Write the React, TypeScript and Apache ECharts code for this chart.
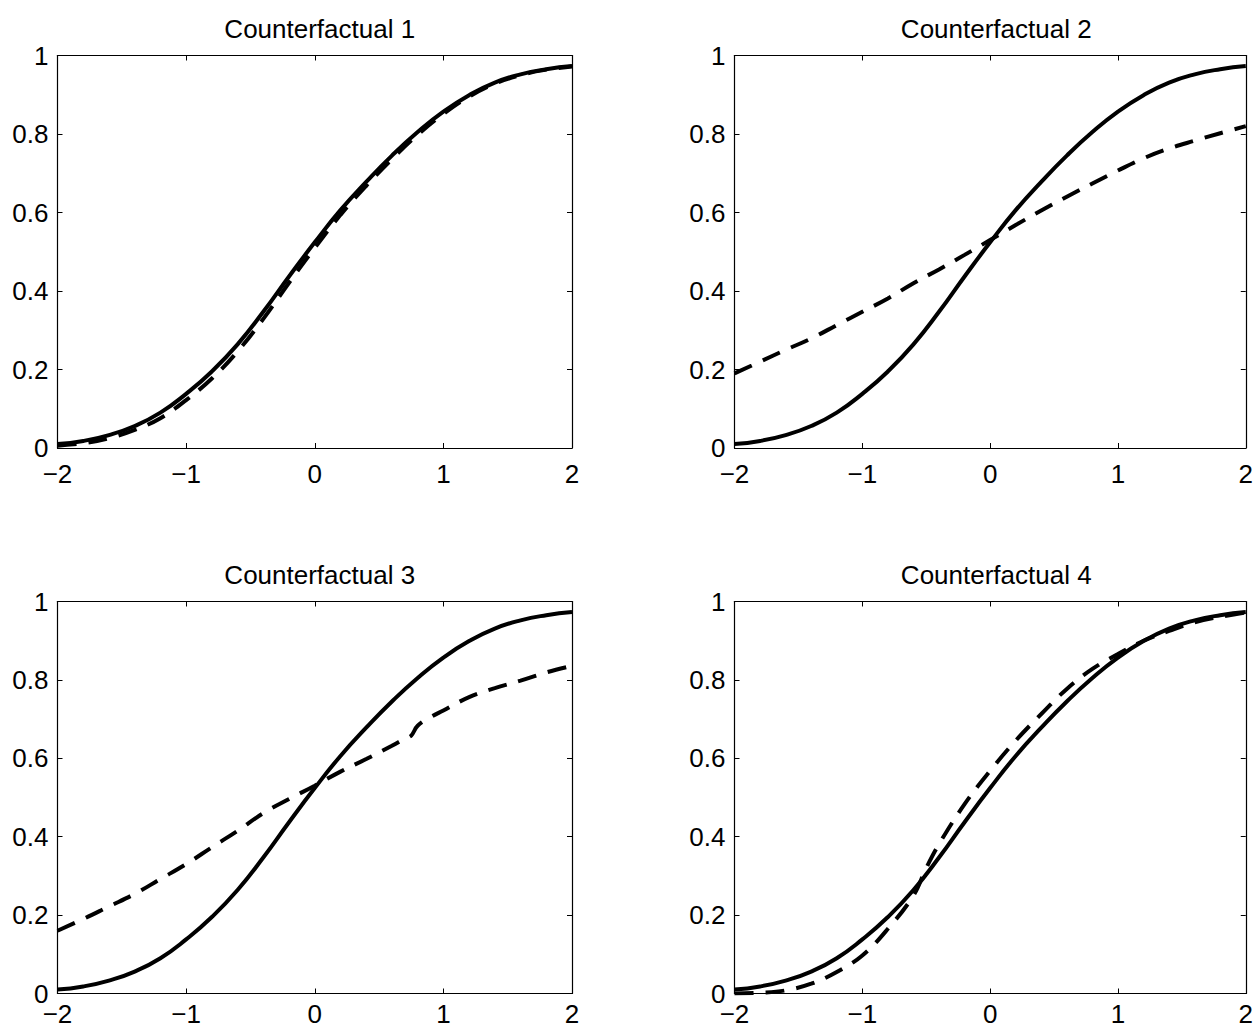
import React, { useEffect, useRef } from "react";
import * as echarts from "echarts";

const titles = ["Counterfactual 1", "Counterfactual 2", "Counterfactual 3", "Counterfactual 4"];

const xGrid = [-2, -1.8, -1.6, -1.4, -1.2, -1, -0.8, -0.6, -0.4, -0.2, 0, 0.2, 0.4, 0.6, 0.8, 1, 1.2, 1.4, 1.6, 1.8, 2];

// observed (solid) curve, same in every panel
const solidY = [0.010, 0.018, 0.033, 0.056, 0.090, 0.138, 0.195, 0.264, 0.347, 0.437, 0.524, 0.606, 0.678, 0.745, 0.805, 0.857, 0.899, 0.931, 0.952, 0.965, 0.973];

// counterfactual (dashed) curves
const cf1Y = [0.006, 0.012, 0.025, 0.046, 0.076, 0.122, 0.177, 0.246, 0.329, 0.421, 0.510, 0.594, 0.668, 0.736, 0.798, 0.851, 0.895, 0.928, 0.950, 0.964, 0.972];

const cf2Y = [0.190, 0.220, 0.250, 0.279, 0.313, 0.347, 0.381, 0.420, 0.455, 0.492, 0.530, 0.568, 0.605, 0.640, 0.674, 0.707, 0.738, 0.763, 0.783, 0.802, 0.820];

const cf3X = [-2, -1.8, -1.6, -1.4, -1.2, -1, -0.8, -0.6, -0.4, -0.2, 0, 0.2, 0.4, 0.6, 0.7, 0.75, 0.8, 0.9, 1, 1.2, 1.4, 1.6, 1.8, 2];
const cf3Y = [0.160, 0.190, 0.222, 0.254, 0.292, 0.330, 0.373, 0.415, 0.460, 0.496, 0.530, 0.566, 0.598, 0.632, 0.650, 0.658, 0.683, 0.705, 0.722, 0.756, 0.779, 0.798, 0.819, 0.836];

const cf4X = [-2, -1.8, -1.6, -1.4, -1.2, -1, -0.8, -0.6, -0.5, -0.4, -0.2, 0, 0.2, 0.4, 0.6, 0.8, 1, 1.2, 1.4, 1.6, 1.8, 2];
const cf4Y = [0.000, 0.002, 0.008, 0.025, 0.055, 0.097, 0.165, 0.250, 0.320, 0.381, 0.483, 0.568, 0.645, 0.713, 0.777, 0.828, 0.866, 0.900, 0.925, 0.947, 0.961, 0.972];

const xTicks = [-2, -1, 0, 1, 2];
const yTicks = [0, 0.2, 0.4, 0.6, 0.8, 1];

const pairs = (xs: number[], ys: number[]) => xs.map((x, i) => [x, ys[i]]);

const FONT = "'Liberation Sans', Arial, Helvetica, sans-serif";

export default function App() {
  const ref = useRef<HTMLDivElement>(null);
  useEffect(() => {
    document.body.style.margin = "0";
    if (!ref.current) return;
    const chart = echarts.init(ref.current, null, { renderer: "svg" });

    const grids = [
      { left: 57.5, top: 55.5, width: 514.5, height: 392.5 },
      { left: 734.5, top: 55.5, width: 513.5, height: 392.5 },
      { left: 57.5, top: 601.5, width: 514.5, height: 392 },
      { left: 734.5, top: 601.5, width: 513.5, height: 392 },
    ];
    const labelMargins = [19, 19, 13, 13];
    const dashed = [pairs(xGrid, cf1Y), pairs(xGrid, cf2Y), pairs(cf3X, cf3Y), pairs(cf4X, cf4Y)];

    const xAxis: any[] = [];
    const yAxis: any[] = [];
    const series: any[] = [];
    const title: any[] = [];
    const axLine = { show: true, onZero: false, lineStyle: { color: "#000", width: 1.2 } };
    const tick = { show: true, inside: true, length: 5, lineStyle: { color: "#000", width: 1 } };
    const fmt = (v: number) => String(v).replace("-", "\u2212");

    grids.forEach((g, i) => {
      xAxis.push({
        type: "value", gridIndex: i, position: "bottom", min: xTicks[0], max: xTicks[xTicks.length - 1], interval: 1,
        axisLine: axLine, axisTick: tick, splitLine: { show: false },
        axisLabel: { color: "#000", fontSize: 26, lineHeight: 14, fontFamily: FONT, margin: labelMargins[i], formatter: fmt, showMinLabel: true, showMaxLabel: true },
      });
      xAxis.push({
        type: "value", gridIndex: i, position: "top", min: xTicks[0], max: xTicks[xTicks.length - 1], interval: 1,
        axisLine: axLine, axisTick: tick, splitLine: { show: false }, axisLabel: { show: false },
      });
      yAxis.push({
        type: "value", gridIndex: i, position: "left", min: yTicks[0], max: yTicks[yTicks.length - 1], interval: 0.2,
        axisLine: axLine, axisTick: tick, splitLine: { show: false },
        axisLabel: { color: "#000", fontSize: 26, lineHeight: 14, fontFamily: FONT, margin: 9, formatter: (v: number) => String(Math.round(v * 10) / 10), showMinLabel: true, showMaxLabel: true },
      });
      yAxis.push({
        type: "value", gridIndex: i, position: "right", min: yTicks[0], max: yTicks[yTicks.length - 1], interval: 0.2,
        axisLine: axLine, axisTick: tick, splitLine: { show: false }, axisLabel: { show: false },
      });
      series.push({
        type: "line", xAxisIndex: i * 2, yAxisIndex: i * 2, data: pairs(xGrid, solidY), smooth: 0.5,
        showSymbol: false, lineStyle: { color: "#000", width: 4 }, z: 3,
      });
      series.push({
        type: "line", xAxisIndex: i * 2, yAxisIndex: i * 2, data: dashed[i], smooth: 0.4,
        showSymbol: false, lineStyle: { color: "#000", width: 4, type: [19, 12] }, z: 4,
      });
      title.push({
        text: titles[i], left: g.left + g.width / 2, top: g.top - 45, textAlign: "center",
        textStyle: { color: "#000", fontSize: 26, fontWeight: "normal", fontFamily: FONT },
      });
    });

    chart.setOption({
      animation: false,
      backgroundColor: "#fff",
      title,
      grid: grids,
      xAxis,
      yAxis,
      series,
    });
    return () => chart.dispose();
  }, []);
  return <div ref={ref} style={{ width: 1256, height: 1028 }} />;
}
